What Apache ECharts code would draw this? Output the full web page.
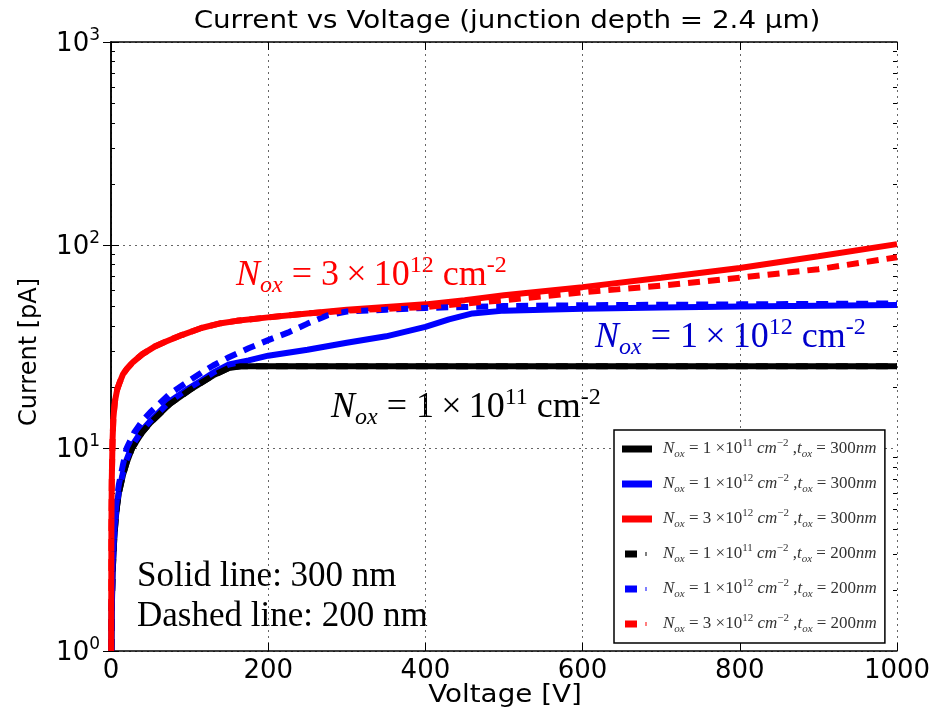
<!DOCTYPE html>
<html>
<head>
<meta charset="utf-8">
<script src="https://cdn.jsdelivr.net/npm/echarts@6/dist/echarts.min.js"></script>
<style>
  html, body { margin: 0; padding: 0; background: #fff; }
  #mainChart { width: 943px; height: 712px; }
</style>
</head>
<body>
<div id="mainChart"></div>
<script>
'use strict'
// voltage [V] / current [pA]
var black300V = [0.5, 1, 2, 4, 6, 8, 10, 15, 20, 27, 40, 50, 75, 100, 115, 130, 150, 165, 200, 400, 600, 800, 1000];
var black300I = [1, 1.6, 2.4, 3.5, 4.5, 5.3, 6, 7.3, 8.5, 10, 12, 13.3, 16.5, 19.3, 21, 22.8, 24.8, 25.3, 25.3, 25.3, 25.3, 25.3, 25.3];

var blue300V = [0.5, 1, 2, 4, 6, 8, 10, 15, 20, 27, 40, 50, 75, 100, 115, 130, 150, 175, 200, 250, 300, 350, 400, 430, 460, 500, 600, 700, 800, 900, 1000];
var blue300I = [1, 1.7, 2.5, 3.6, 4.6, 5.4, 6.1, 7.5, 8.8, 10.3, 12.3, 13.6, 17, 19.8, 21.5, 23.5, 25.8, 27, 28.5, 30.5, 33, 35.5, 39.5, 43, 46, 47.5, 48.5, 49.2, 49.8, 50.2, 50.6];

var red300V = [0.2, 0.5, 1, 2, 3, 5, 8, 11, 15, 20, 28, 40, 55, 70, 90, 115, 140, 160, 200, 250, 300, 350, 400, 450, 500, 600, 700, 800, 900, 1000];
var red300I = [1, 4, 7, 11, 14, 17, 19.5, 21, 23, 24.5, 26.5, 29, 31.5, 33.5, 36, 39, 41.2, 42.3, 44, 46, 48, 49.5, 51, 53.5, 56.5, 62, 69, 77, 88, 101];

var black200V = [0.5, 1, 2, 4, 6, 8, 10, 15, 20, 27, 40, 50, 75, 100, 115, 130, 150, 165, 200, 400, 600, 800, 1000];
var black200I = [1, 1.6, 2.4, 3.5, 4.5, 5.3, 6, 7.3, 8.5, 10, 12, 13.3, 16.5, 19.3, 21, 22.8, 24.8, 25.3, 25.3, 25.3, 25.3, 25.3, 25.3];

var blue200V = [0.5, 1, 2, 4, 6, 8, 10, 15, 20, 30, 40, 50, 75, 100, 115, 130, 150, 175, 200, 225, 250, 275, 300, 350, 400, 450, 500, 600, 800, 1000];
var blue200I = [1, 1.7, 2.6, 3.8, 4.9, 5.8, 6.6, 8.2, 10, 12, 13.6, 15, 18.5, 21.5, 23.5, 25.5, 28, 31, 34, 37, 41, 45, 47, 48, 49, 49.5, 50, 50.5, 51, 51.5];

var red200V = [0.2, 0.5, 1, 2, 3, 5, 8, 11, 15, 20, 28, 40, 55, 70, 90, 115, 140, 160, 200, 250, 300, 350, 400, 450, 500, 600, 700, 800, 900, 1000];
var red200I = [1, 4, 7, 11, 14, 17, 19.5, 21, 23, 24.5, 26.5, 29, 31.5, 33.5, 36, 39, 41.2, 42.3, 44, 46, 47.5, 48.5, 49.5, 51.5, 53.5, 58.5, 63, 69, 76, 87];

var yTickValues = [1, 10, 100, 1000];
var yTickExp = ['0', '1', '2', '3'];
var yMinorTicks = [2, 3, 4, 5, 6, 7, 8, 9, 20, 30, 40, 50, 60, 70, 80, 90, 200, 300, 400, 500, 600, 700, 800, 900];

var seriesNames = ['b300', 'u300', 'r300', 'b200', 'u200', 'r200'];
var seriesNox = ['1', '1', '3', '1', '1', '3'];
var seriesNoxExp = ['11', '12', '12', '11', '12', '12'];
var seriesTox = ['300', '300', '300', '200', '200', '200'];

function pairs(v, i) {
    return v.map(function (x, k) { return [x, i[k]]; });
}

var myChart = echarts.init(document.getElementById('mainChart'));

var sans = 'DejaVu Sans';
var serif = 'Liberation Serif';
var solidIcon = 'path://M0,0H30V7H0Z';
var dashIcon = 'path://M0,3.4H0.01V3.6H0Z M3,0H15V7H3Z M23.5,1.5H24.5V5.5H23.5Z M29.99,3.4H30V3.6H29.99Z';

function mkSeries(name, v, i, color, dashed) {
    return {
        name: name,
        type: 'line',
        data: pairs(v, i),
        showSymbol: false,
        symbol: 'none',
        animation: false,
        lineStyle: { color: color, width: 6, type: dashed ? [12, 8] : 'solid' },
        itemStyle: { color: color }
    };
}

function legendText(name) {
    var k = seriesNames.indexOf(name);
    return '{g|}{i|N}{sub|ox}{n| = ' + seriesNox[k] + ' \u00d710}{sup|' + seriesNoxExp[k] + '}{i| cm}{sup|\u22122}{n| ,}{i|t}{sub|ox}{n| = ' + seriesTox[k] + '}{i|nm}';
}

function annot(x, y, color, nox, exp) {
    return {
        type: 'text',
        left: x,
        top: y,
        style: {
            text: '{i|N}{sub|ox}{n| = ' + nox + '\u2009\u00d7\u200910}{sup|' + exp + '}{n| cm}{sup|-2}',
            fill: color,
            rich: {
                i: { fontFamily: serif, fontStyle: 'italic', fontSize: 36, lineHeight: 44, verticalAlign: 'middle', fill: color },
                n: { fontFamily: serif, fontSize: 36, lineHeight: 44, verticalAlign: 'middle', fill: color },
                sub: { fontFamily: serif, fontStyle: 'italic', fontSize: 24, lineHeight: 26, verticalAlign: 'bottom', fill: color },
                sup: { fontFamily: serif, fontSize: 24, lineHeight: 26, verticalAlign: 'top', fill: color }
            }
        }
    };
}

// matplotlib text in the picture is a bit wider than DejaVu, stretch it
function wideText(txt, x, y, size, rot) {
    return {
        type: 'text',
        x: x, y: y,
        originX: 0, originY: 0,
        scaleX: rot ? 1 : 1.11,
        rotation: rot || 0,
        style: { text: txt, fontFamily: sans, fontSize: size, fill: '#000', align: 'center', verticalAlign: 'middle' }
    };
}

var tickStyle = { show: true, inside: true, length: 8, lineStyle: { color: '#000', width: 1 } };
var lineStyleAxis = { show: true, lineStyle: { color: '#000', width: 1.5 } };
var gridLine = { show: true, lineStyle: { color: '#666', type: [2, 4], width: 1 } };

myChart.setOption({
    animation: false,
    backgroundColor: '#fff',
    grid: { left: 111, right: 46, top: 42, bottom: 61, containLabel: false },
    legend: {
        orient: 'vertical',
        left: 614,
        top: 430,
        padding: [8, 8, 8, 8],
        itemGap: 13,
        itemWidth: 30,
        itemHeight: 7,
        backgroundColor: '#fff',
        borderColor: '#000',
        borderWidth: 1.5,
        borderRadius: 0,
        data: [
            { name: 'b300', icon: solidIcon },
            { name: 'u300', icon: solidIcon },
            { name: 'r300', icon: solidIcon },
            { name: 'b200', icon: dashIcon },
            { name: 'u200', icon: dashIcon },
            { name: 'r200', icon: dashIcon }
        ],
        formatter: legendText,
        textStyle: {
            color: '#333',
            rich: {
                g: { width: 6 },
                i: { fontFamily: serif, fontStyle: 'italic', fontSize: 17, lineHeight: 22, verticalAlign: 'middle', color: '#333' },
                n: { fontFamily: serif, fontSize: 17, lineHeight: 22, verticalAlign: 'middle', color: '#333' },
                sub: { fontFamily: serif, fontStyle: 'italic', fontSize: 11, lineHeight: 11, verticalAlign: 'bottom', color: '#333' },
                sup: { fontFamily: serif, fontSize: 11, lineHeight: 11, verticalAlign: 'top', color: '#333' }
            }
        }
    },
    xAxis: [
        {
            type: 'value', position: 'bottom', min: 0, max: 1000, interval: 200,
            axisLine: lineStyleAxis,
            axisTick: tickStyle,
            axisLabel: {
                show: true, margin: 7, fontFamily: sans, fontSize: 26, color: '#000',
                formatter: function (v) { return String(v); }
            },
            splitLine: gridLine
        },
        {
            type: 'value', position: 'top', min: 0, max: 1000, interval: 200,
            axisLine: lineStyleAxis, axisTick: tickStyle,
            axisLabel: { show: false }, splitLine: { show: false }
        }
    ],
    yAxis: [
        {
            type: 'log', logBase: 10, min: 1, max: 1000, position: 'left',
            axisLine: lineStyleAxis,
            axisTick: tickStyle,
            axisLabel: {
                show: true, margin: 11, color: '#000',
                formatter: function (v) {
                    var k = yTickValues.indexOf(Math.round(v));
                    return '{b|10}{s|' + yTickExp[k] + '}';
                },
                rich: {
                    b: { fontFamily: sans, fontSize: 26, lineHeight: 30, verticalAlign: 'bottom', color: '#000' },
                    s: { fontFamily: sans, fontSize: 17, lineHeight: 17, verticalAlign: 'top', color: '#000' }
                }
            },
            splitLine: gridLine
        },
        {
            type: 'log', logBase: 10, min: 1, max: 1000, position: 'right',
            axisLine: lineStyleAxis, axisTick: tickStyle,
            axisLabel: { show: false }, splitLine: { show: false }
        },
        {
            type: 'log', logBase: 10, min: 1, max: 1000, position: 'left',
            axisLine: { show: false },
            axisTick: { show: true, inside: true, length: 4, customValues: yMinorTicks, lineStyle: { color: '#000' } },
            axisLabel: { show: false }, splitLine: { show: false }
        },
        {
            type: 'log', logBase: 10, min: 1, max: 1000, position: 'right',
            axisLine: { show: false },
            axisTick: { show: true, inside: true, length: 4, customValues: yMinorTicks, lineStyle: { color: '#000' } },
            axisLabel: { show: false }, splitLine: { show: false }
        }
    ],
    series: [
        mkSeries('b300', black300V, black300I, '#000000', false),
        mkSeries('u300', blue300V, blue300I, '#0000ff', false),
        mkSeries('r300', red300V, red300I, '#ff0000', false),
        mkSeries('b200', black200V, black200I, '#000000', true),
        mkSeries('u200', blue200V, blue200I, '#0000ff', true),
        mkSeries('r200', red200V, red200I, '#ff0000', true)
    ],
    graphic: [
        wideText('Current vs Voltage (junction depth = 2.4 \u03bcm)', 507, 21, 25),
        wideText('Voltage [V]', 505, 695, 25),
        wideText('Current [pA]', 30, 352, 24, Math.PI / 2),
        annot(236, 254, '#ff0000', '3', '12'),
        annot(595, 316, '#0000cc', '1', '12'),
        annot(331, 386, '#000000', '1', '11'),
        {
            type: 'text', left: 137, top: 559,
            style: { text: 'Solid line: 300 nm', fontFamily: serif, fontSize: 35, fill: '#000' }
        },
        {
            type: 'text', left: 137, top: 599,
            style: { text: 'Dashed line: 200 nm', fontFamily: serif, fontSize: 35, fill: '#000' }
        }
    ]
});
</script>
</body>
</html>
